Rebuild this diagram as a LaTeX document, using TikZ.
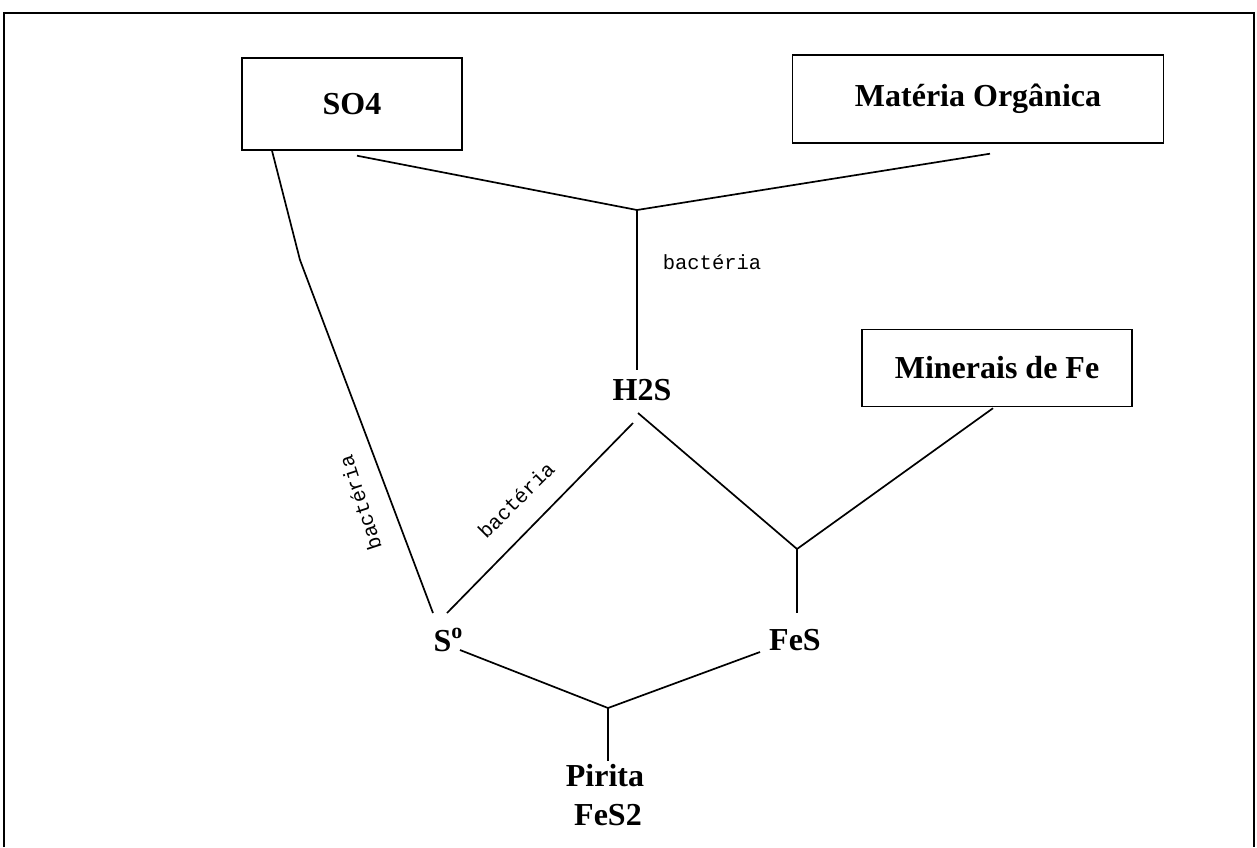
\documentclass[tikz,border=0pt]{standalone}
\usepackage{fontspec}
\setmainfont{Liberation Serif}
\newfontfamily\monof{Liberation Mono}
\usetikzlibrary{calc}
\begin{document}
\begin{tikzpicture}[x=1pt,y=-1pt,
  conn/.style={line width=1.7pt, black},
  frameline/.style={line width=1.4pt, black},
  boxnode/.style={draw, line width=1.4pt, font=\fontsize{32}{38}\selectfont\bfseries, inner sep=0pt},
  chem/.style={font=\fontsize{32}{38}\selectfont\bfseries, inner sep=0pt},
  lbl/.style={font=\fontsize{20.5}{22}\selectfont\monof, inner sep=0pt}]
\useasboundingbox (0,0) rectangle (1257,847);
\draw[frameline] (4,847) -- (4,13) -- (1254,13) -- (1254,847);
% boxes
\node[boxnode, minimum width=220pt, minimum height=92pt] (so4) at (352,104) {SO4};
\node[boxnode, minimum width=371pt, minimum height=88pt] (mat) at (978,99) {Matéria Orgânica};
\node[boxnode, minimum width=270pt, minimum height=77pt] (minfe) at (997,368) {Minerais de Fe};
% species
\node[chem] (h2s) at (642,390) {H2S};
\node[chem] (so) at (448,640) {S\raisebox{0.42em}{\fontsize{22}{24}\selectfont o}};
\node[chem] (fes) at (795,640) {FeS};
\node[chem] (pir) at (605,776) {Pirita};
\node[chem] (fes2) at (608,815) {FeS2};
% junctions
\coordinate (j1) at (637,210);
\coordinate (j2) at (797,549);
\coordinate (j3) at (608,708);
\coordinate (b1) at (300,260);
% connectors
\draw[conn] ([xshift=5pt,yshift=-5pt]so4.south) -- (j1);
\draw[conn] ([xshift=12pt,yshift=-10pt]mat.south) -- (j1);
\draw[conn] (j1) -- ([yshift=9pt]j1 |- h2s.north);
\draw[conn] ([xshift=-80pt]so4.south) -- (b1) -- ([xshift=-15pt,yshift=27pt]so.center);
\draw[conn] ([xshift=-1pt,yshift=27pt]so.center) -- ([xshift=-9pt,yshift=-33pt]h2s.center);
\draw[conn] ([xshift=-4pt,yshift=-23pt]h2s.center) -- (j2);
\draw[conn] ([xshift=-4pt,yshift=-1pt]minfe.south) -- (j2);
\draw[conn] (j2) -- ([yshift=16pt]j2 |- fes.north);
\draw[conn] ([xshift=12pt,yshift=-10pt]so.center) -- (j3);
\draw[conn] ([xshift=-35pt,yshift=-12pt]fes.center) -- (j3);
\draw[conn] (j3) -- ([yshift=4pt]j3 |- pir.north);
% labels
\node[lbl] (l1) at (712,262) {bactéria};
\node[lbl, rotate=108] (l2) at (360,503) {bactéria};
\node[lbl, rotate=45] (l3) at (516,500) {bactéria};
\end{tikzpicture}
\end{document}
